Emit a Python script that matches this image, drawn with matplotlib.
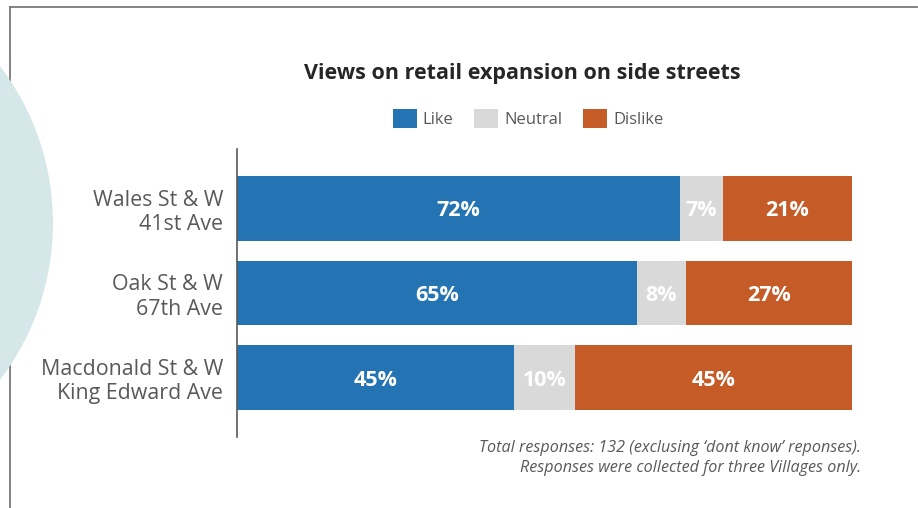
import matplotlib
matplotlib.use("Agg")
import matplotlib.pyplot as plt
from matplotlib.patches import Circle
from matplotlib.lines import Line2D

plt.rcParams['font.family'] = ['Open Sans', 'DejaVu Sans']

# survey results, percent of responses
locations = ["Wales St & W\n41st Ave", "Oak St & W\n67th Ave", "Macdonald St & W\nKing Edward Ave"]
like = [72, 65, 45]
neutral = [7, 8, 10]
dislike = [21, 27, 45]
series_names = ["Like", "Neutral", "Dislike"]
colors = ["#2474b4", "#d9d9d9", "#c55b27"]

W, H = 918, 508
fig = plt.figure(figsize=(W / 100, H / 100), dpi=100)

# page frame and decorative circle
frame = "#7a7a7a"
fig.add_artist(Line2D([10 / W, 917 / W], [1 - 7 / H, 1 - 7 / H], transform=fig.transFigure, color=frame, lw=1.3))
fig.add_artist(Line2D([10 / W, 10 / W], [1 - 7 / H, 0], transform=fig.transFigure, color=frame, lw=1.3))
fig.add_artist(Circle((-2.06, (H - 223) / 100), 2.59, transform=fig.dpi_scale_trans,
                      facecolor="#d5e7e9", edgecolor="none", zorder=3))

ax = fig.add_axes([237 / W, 1 - 437 / H, 615 / W, 288 / H])

ypos = range(len(locations))
left = [0] * len(locations)
for vals, name, col in zip([like, neutral, dislike], series_names, colors):
    bars = ax.barh(ypos, vals, left=left, height=0.765, color=col, label=name)
    for b, v in zip(bars, vals):
        ax.text(b.get_x() + b.get_width() / 2, b.get_y() + b.get_height() / 2 + 0.03, f"{v}%",
                ha="center", va="center", color="white", fontsize=15.5, fontweight="bold")
    left = [l + v for l, v in zip(left, vals)]

ax.set_xlim(0, 100)
ax.set_ylim(2.7, -0.7)
ax.set_yticks(list(ypos))
ax.set_yticklabels(locations, fontsize=15.4, color="#595959", ha="right")
ax.tick_params(axis="y", length=0, pad=10)
ax.set_xticks([])
for s in ["top", "right", "bottom"]:
    ax.spines[s].set_visible(False)
ax.spines["left"].set_color("#595959")
ax.spines["left"].set_linewidth(1.2)

fig.text(522 / W, 1 - 73 / H, "Views on retail expansion on side streets", ha="center", va="center",
         fontsize=15.5, fontweight="bold", color="#262626")

fig.legend(loc="center", bbox_to_anchor=(528 / W, 1 - 118.5 / H), ncol=3, frameon=False,
           fontsize=12, labelcolor="#595959", handlelength=1.45, handleheight=1.45,
           handletextpad=0.35, columnspacing=1.25)

fig.text(861 / W, 1 - 458 / H,
         "Total responses: 132 (exclusing \u2018dont know\u2019 reponses).\nResponses were collected for three Villages only.",
         ha="right", va="center", fontsize=11.6, style="italic", color="#595959", linespacing=1.3)

fig.savefig("out.png", dpi=100)
